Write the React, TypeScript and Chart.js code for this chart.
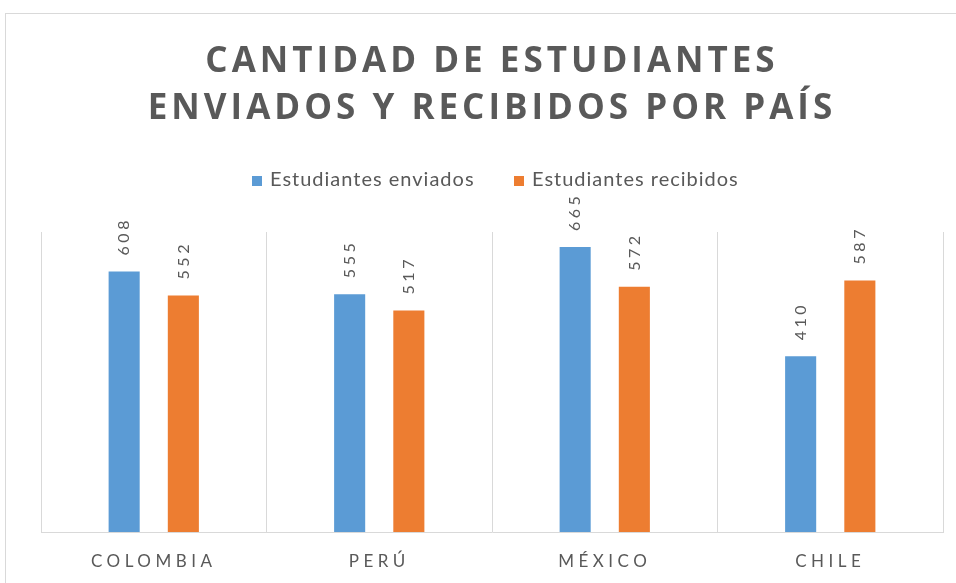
import React, { useEffect, useRef } from 'react';
import { Chart, registerables } from 'chart.js';

Chart.register(...registerables);

const categories = ['COLOMBIA', 'PERÚ', 'MÉXICO', 'CHILE'];
const seriesNames = ['Estudiantes enviados', 'Estudiantes recibidos'];
const sent = [608, 555, 665, 410];
const received = [552, 517, 572, 587];
const titleLines = ['CANTIDAD DE ESTUDIANTES', 'ENVIADOS Y RECIBIDOS POR PAÍS'];
const yMin = 0;
const yMax = 700;

const BLUE = '#5b9bd5';
const ORANGE = '#ed7d31';
const TEXT = '#595959';
const GRID = '#d9d9d9';

const decorPlugin = {
  id: 'decor',
  afterDraw(chart: any) {
    const ctx = chart.ctx as CanvasRenderingContext2D;
    // Title
    ctx.save();
    ctx.fillStyle = TEXT;
    ctx.font = 'bold 35px "Open Sans"';
    (ctx as any).letterSpacing = '4px';
    ctx.textAlign = 'center';
    ctx.textBaseline = 'alphabetic';
    ctx.fillText(titleLines[0], 490 + 2, 72);
    ctx.fillText(titleLines[1], 490 + 2, 119);
    ctx.restore();

    // Legend
    ctx.save();
    ctx.font = '20px Lato';
    (ctx as any).letterSpacing = '1px';
    ctx.textBaseline = 'alphabetic';
    ctx.textAlign = 'left';
    const legendColors = [BLUE, ORANGE];
    const boxX = [252, 514];
    seriesNames.forEach((name, i) => {
      ctx.fillStyle = legendColors[i];
      ctx.fillRect(boxX[i], 176, 10, 10);
      ctx.fillStyle = TEXT;
      ctx.fillText(name, boxX[i] + 18, 186);
    });
    ctx.restore();

    // Data labels
    ctx.save();
    ctx.fillStyle = TEXT;
    ctx.font = '16px Lato';
    (ctx as any).letterSpacing = '3.5px';
    ctx.textAlign = 'left';
    ctx.textBaseline = 'middle';
    chart.data.datasets.forEach((ds: any, di: number) => {
      const meta = chart.getDatasetMeta(di);
      meta.data.forEach((bar: any, i: number) => {
        ctx.save();
        ctx.translate(bar.x, bar.y - 16);
        ctx.rotate(-Math.PI / 2);
        ctx.fillText(String(ds.data[i]), 0, 0);
        ctx.restore();
      });
    });
    ctx.restore();

    // Category labels
    ctx.save();
    ctx.fillStyle = TEXT;
    ctx.font = '17px Lato';
    (ctx as any).letterSpacing = '4.5px';
    ctx.textAlign = 'center';
    ctx.textBaseline = 'alphabetic';
    const xScale = chart.scales.x;
    categories.forEach((c, i) => {
      ctx.fillText(c, xScale.getPixelForValue(i), 567);
    });
    ctx.restore();
  },
};

export default function App() {
  const ref = useRef<HTMLCanvasElement>(null);
  useEffect(() => {
    if (!ref.current) return;
    const chart = new Chart(ref.current, {
      type: 'bar',
      data: {
        labels: categories,
        datasets: [
          {
            label: seriesNames[0],
            data: sent,
            backgroundColor: BLUE,
            categoryPercentage: 0.525,
            barPercentage: 0.525,
          },
          {
            label: seriesNames[1],
            data: received,
            backgroundColor: ORANGE,
            categoryPercentage: 0.525,
            barPercentage: 0.525,
          },
        ],
      },
      options: {
        responsive: false,
        animation: false,
        layout: { padding: { top: 232, bottom: 51, left: 41, right: 13 } },
        plugins: {
          legend: { display: false },
          title: { display: false },
          tooltip: { enabled: false },
        },
        scales: {
          x: {
            grid: { offset: true, color: GRID, drawTicks: false, lineWidth: 1 },
            border: { display: true, color: GRID, width: 1 },
            ticks: { display: false },
          },
          y: { display: false, min: yMin, max: yMax },
        },
      },
      plugins: [decorPlugin],
    });
    return () => chart.destroy();
  }, []);

  return (
    <div style={{ position: 'fixed', inset: 0, overflow: 'hidden', background: '#fff' }}>
      <div
        style={{
          position: 'absolute',
          left: 5,
          top: 13,
          width: 2000,
          height: 2000,
          border: `1px solid ${GRID}`,
        }}
      />
      <canvas
        ref={ref}
        width={956}
        height={583}
        style={{ position: 'absolute', left: 0, top: 0, width: 956, height: 583 }}
      />
    </div>
  );
}
